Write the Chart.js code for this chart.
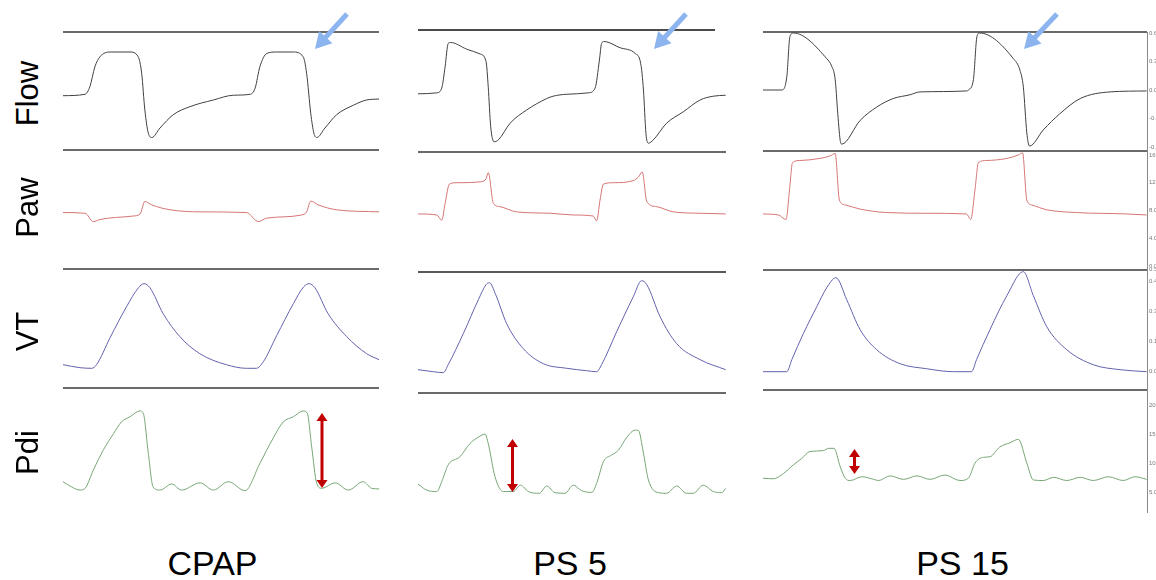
<!DOCTYPE html>
<html><head><meta charset="utf-8">
<script src="https://cdn.jsdelivr.net/npm/chart.js@4.4.1/dist/chart.umd.min.js"></script>
<style>
html,body{margin:0;padding:0;background:#fff;}
#wrap{position:relative;width:1156px;height:580px;overflow:hidden;font-family:"Liberation Sans",Arial,sans-serif;background:#fff;}
#wrap canvas{position:absolute;}
.rowlab{position:absolute;width:120px;height:31px;line-height:31px;font-size:31px;text-align:center;transform:rotate(-90deg);color:#000;white-space:nowrap;}
.collab{position:absolute;width:200px;height:34px;line-height:34px;font-size:34px;text-align:center;color:#000;white-space:nowrap;}
#ov{position:absolute;left:0;top:0;pointer-events:none;}
</style></head>
<body><div id="wrap"></div>
<script>
// ---------- DATA (time in % of record, values in signal units) ----------
const conditions = ['CPAP', 'PS 5', 'PS 15'];
const signals = ['Flow', 'Paw', 'VT', 'Pdi'];

const cpapFlow = [[0,-0.06],[7.0,-0.045],[8.5,0.035],[10.1,0.245],[11.7,0.35],[14.9,0.40],[21.2,0.40],[23.8,0.35],[24.9,0.175],[25.9,-0.21],[27.0,-0.455],[28.1,-0.50],[30.7,-0.40],[34.9,-0.26],[40.2,-0.175],[47.6,-0.105],[53.9,-0.055],[59.2,-0.045],[60.8,0.02],[62.3,0.245],[64.5,0.385],[67.6,0.40],[72.9,0.40],[76.0,0.35],[77.1,0.175],[78.4,-0.245],[79.4,-0.455],[80.3,-0.50],[82.9,-0.40],[86.6,-0.26],[91.9,-0.16],[96.1,-0.105],[100,-0.095]];
const cpapPaw = [[0,7.7],[7.0,7.6],[9.6,6.4],[11.7,6.7],[22.2,7.2],[24.4,7.5],[25.9,9.3],[28.1,8.8],[33.9,8.1],[43.4,7.8],[58.1,7.7],[61.8,6.4],[64.5,6.9],[75.5,7.35],[77.1,7.8],[78.4,9.35],[80.8,8.8],[86.6,8.1],[100,7.8]];
const cpapVT = [[0,0.035],[5.4,0.02],[9.1,0.017],[10.6,0.035],[14.9,0.17],[20.1,0.325],[23.9,0.42],[25.6,0.44],[27.5,0.42],[31.7,0.29],[37.0,0.175],[43.3,0.09],[51.7,0.035],[58.1,0.017],[61.2,0.017],[63.4,0.05],[67.6,0.18],[72.9,0.34],[76.2,0.425],[77.9,0.44],[79.7,0.42],[83.9,0.29],[89.8,0.175],[96.1,0.09],[100,0.06]];
const cpapPdi = [[0,6.9],[2.7,6.0],[5.4,5.45],[7.0,5.75],[9.6,8.9],[12.8,12.4],[16.0,15.2],[18.5,17.2],[21.2,18.1],[24.4,19.1],[25.4,18.7],[27.0,11.8],[28.5,6.0],[30.7,5.45],[34.4,6.5],[37.5,5.45],[43.4,6.7],[47.6,5.45],[52.3,6.9],[57.6,5.35],[62.3,10.05],[66.5,14.4],[69.7,17.2],[72.9,18.1],[76.0,19.1],[77.3,18.7],[78.7,12.9],[80.3,6.6],[81.9,5.75],[86.1,6.7],[90.3,5.45],[95.0,6.9],[97.7,5.75],[100,5.65]];

const ps5Flow = [[0,-0.04],[6.1,-0.03],[7.7,0.02],[8.8,0.245],[9.8,0.49],[10.6,0.50],[15.8,0.43],[20.1,0.38],[22.1,0.30],[22.8,0.035],[23.6,-0.385],[24.7,-0.545],[26.1,-0.525],[29.9,-0.35],[35.3,-0.21],[41.8,-0.09],[43.9,-0.065],[48.3,-0.045],[55.3,-0.03],[57.5,0.02],[58.9,0.315],[59.6,0.49],[60.4,0.51],[65.6,0.445],[70.5,0.385],[72.3,0.28],[73.2,0.0],[74.0,-0.455],[74.8,-0.56],[76.4,-0.525],[80.7,-0.35],[86.1,-0.23],[91.6,-0.105],[95.9,-0.065],[99.9,-0.055]];
const ps5Paw = [[0,7.5],[6.1,7.35],[7.7,6.6],[8.8,9.0],[10.2,11.8],[12.6,12.0],[20.7,12.15],[22.1,12.6],[22.8,13.45],[24.5,9.0],[26.6,8.55],[32.0,7.8],[42.9,7.6],[50.4,7.35],[56.9,7.2],[58.0,6.5],[59.1,9.5],[60.2,11.8],[63.4,12.0],[69.9,12.3],[71.5,12.8],[72.8,13.55],[74.3,9.25],[77.5,8.55],[82.9,7.8],[91.6,7.6],[99.9,7.5]];
const ps5VT = [[0,0.01],[5.0,0],[8.2,-0.005],[9.8,0.035],[14.7,0.19],[19.6,0.36],[22.1,0.435],[23.2,0.445],[25.1,0.39],[28.8,0.24],[34.2,0.115],[40.7,0.04],[48.3,0.017],[54.7,0.005],[58.0,0],[59.6,0.035],[64.5,0.2],[69.9,0.375],[72.6,0.455],[74.3,0.435],[78.6,0.275],[84.0,0.14],[91.6,0.06],[99.9,0.01]];
const ps5Pdi = [[0,6.5],[2.8,5.45],[6.1,5.2],[7.7,6.9],[9.8,9.8],[13.6,11.2],[16.9,13.5],[19.1,14.4],[21.8,15.1],[22.8,13.5],[25.0,7.75],[27.7,5.2],[30.9,5.2],[33.3,6.3],[35.8,5.2],[39.4,4.9],[41.8,6.15],[44.5,5.0],[47.7,4.9],[50.4,6.3],[53.1,5.35],[56.4,5.05],[58.0,6.6],[60.2,10.35],[62.9,11.5],[65.1,12.35],[67.8,14.55],[70.5,15.8],[71.6,15.7],[73.2,11.8],[74.8,7.2],[78.1,5.0],[80.7,4.9],[84.0,6.15],[87.2,4.9],[89.4,4.9],[92.6,6.3],[95.9,5.2],[98.6,5.0],[99.9,5.75]];

const ps15Flow = [[0,0],[4.9,0],[6.2,0.14],[7.0,0.56],[7.9,0.60],[16.6,0.33],[17.9,0.25],[18.8,0.11],[19.4,-0.21],[20.1,-0.53],[20.5,-0.57],[25.3,-0.32],[29.6,-0.18],[33.9,-0.09],[38.3,-0.05],[40.9,-0.02],[53.0,-0.01],[53.5,0],[54.8,0.11],[55.7,0.56],[56.4,0.60],[65.2,0.33],[66.9,0.21],[67.8,0.03],[68.7,-0.45],[69.4,-0.59],[73.0,-0.42],[77.3,-0.25],[82.6,-0.09],[90.4,-0.02],[99.9,-0.01]];
const ps15Paw = [[0,7.5],[4.0,7.35],[6.0,6.7],[6.9,10.95],[7.7,14.9],[9.6,15.2],[14.8,15.5],[17.4,15.85],[18.8,16.2],[19.9,9.5],[21.4,8.8],[25.3,8.2],[32.2,7.7],[42.6,7.6],[53.0,7.5],[54.1,6.7],[55.2,10.95],[56.1,14.9],[58.2,15.2],[63.5,15.5],[66.5,16.0],[67.6,16.3],[68.7,9.5],[70.0,8.8],[73.9,8.1],[81.7,7.7],[94.7,7.5],[99.9,7.35]];
const ps15VT = [[0,0],[6.2,0],[7.5,0.06],[10.5,0.19],[14.0,0.325],[16.6,0.42],[19.0,0.47],[21.8,0.36],[25.3,0.21],[29.6,0.11],[35.7,0.04],[42.6,0.015],[49.6,0],[54.3,0],[55.6,0.06],[59.1,0.21],[63.5,0.38],[67.8,0.50],[70.4,0.38],[73.9,0.225],[79.1,0.11],[86.0,0.035],[93.0,0.01],[99.9,0]];
const ps15Pdi = [[0,7.5],[2.7,7.4],[5.3,8.3],[7.9,9.8],[10.1,10.9],[12.2,12.1],[15.7,12.25],[17.1,12.65],[18.5,12.65],[20.1,9.5],[21.4,7.5],[22.7,7.1],[25.8,7.75],[28.8,7.3],[30.1,7.1],[33.1,7.9],[36.6,7.3],[40.1,7.9],[43.5,7.3],[47.4,8.05],[51.3,7.1],[53.5,7.5],[55.2,10.1],[57.4,11.1],[59.1,11.2],[61.7,12.9],[64.3,13.6],[66.5,14.2],[68.7,10.1],[70.4,7.2],[73.0,7.1],[75.7,7.65],[79.1,7.1],[82.6,7.65],[86.0,7.1],[90.0,7.75],[93.8,7.1],[96.9,7.75],[99.9,7.3]];

// right-hand axis ticks of the PS 15 column
const flowTicks = [0.6, 0.3, 0, -0.3, -0.6];
const flowTickLabels = ['0.6', '0.3', '0.0', '-0.3', '-0.6'];
const pawTicks = [16, 12, 8, 4, 0];
const pawTickLabels = ['16.0', '12.0', '8.0', '4.0', '0.0'];
const vtTicks = [0.51, 0.45, 0.30, 0.15, 0];
const vtTickLabels = ['0.51', '0.45', '0.30', '0.15', '0.00'];
const pdiTicks = [20, 15, 10, 5];
const pdiTickLabels = ['20.0', '15.0', '10.0', '5.0'];

// ---------- LAYOUT / STYLE ----------
const series = [
  [cpapFlow, cpapPaw, cpapVT, cpapPdi],
  [ps5Flow, ps5Paw, ps5VT, ps5Pdi],
  [ps15Flow, ps15Paw, ps15VT, ps15Pdi]
];
const axisTicks = [[flowTicks, flowTickLabels], [pawTicks, pawTickLabels], [vtTicks, vtTickLabels], [pdiTicks, pdiTickLabels]];
const colX = [[63, 379], [418, 726], [763, 1147]];
const rowLines = [[32, 150, 269, 388, 512], [30, 152, 272, 393, 512], [32, 151, 270, 390, 512]];
const rowZero = [90, 266, 371.7, 521.7];   // pixel row where value 0 sits
const rowScale = [95, 6.94, 200, 5.8];     // pixels per unit
const traceColors = ['#404040', '#d77474', '#6262ae', '#77a677'];
const ruleStyle = (ci, ri) => {
  if (ci === 1 && ri === 0) return { color: '#111', width: 1.5, length: 297 };
  if (ci === 1 && ri === 2) return { color: '#222', width: 1.5 };
  return { color: '#6a6a6a', width: 2 };
};

Chart.defaults.font.family = '"Liberation Sans", Arial, sans-serif';

const topRule = {
  id: 'topRule',
  beforeDatasetsDraw(chart, args, opts) {
    const { ctx, chartArea: a } = chart;
    ctx.save();
    ctx.strokeStyle = opts.color;
    ctx.lineWidth = opts.width;
    ctx.beginPath();
    ctx.moveTo(a.left, a.top);
    ctx.lineTo(opts.length != null ? a.left + opts.length : a.right, a.top);
    ctx.stroke();
    ctx.restore();
  }
};

const wrap = document.getElementById('wrap');

series.forEach((col, ci) => {
  col.forEach((data, ri) => {
    const top = rowLines[ci][ri], bottom = rowLines[ci][ri + 1];
    const x0 = colX[ci][0], x1 = colX[ci][1];
    const hasAxis = ci === 2;
    const W = hasAxis ? 1156 - x0 : x1 - x0;
    const H = bottom - top + 4;
    const cv = document.createElement('canvas');
    cv.width = W; cv.height = H;
    cv.style.left = x0 + 'px'; cv.style.top = (top - 2) + 'px';
    cv.style.width = W + 'px'; cv.style.height = H + 'px';
    wrap.appendChild(cv);
    const k = rowScale[ri], z = rowZero[ri];
    const ymax = (z - top) / k, ymin = (z - bottom) / k;
    const [tv, tl] = axisTicks[ri];
    const yScale = hasAxis ? {
      position: 'right', min: ymin, max: ymax, display: true,
      grid: { display: false, drawTicks: false },
      border: { display: true, color: '#8a8a8a', width: 1 },
      ticks: { color: '#777', font: { size: 6 }, padding: 2, autoSkip: false,
               callback: (v, i) => tl[i] },
      afterBuildTicks: (s) => { s.ticks = tv.map(v => ({ value: v })); },
      afterFit: (s) => { s.width = 9; s.paddingTop = 0; s.paddingBottom = 0; }
    } : { display: false, min: ymin, max: ymax };
    new Chart(cv, {
      type: 'line',
      data: { datasets: [{
        data: data.map(([t, v]) => ({ x: t, y: v })),
        borderColor: traceColors[ri], borderWidth: 1,
        pointRadius: 0, cubicInterpolationMode: 'monotone', fill: false
      }] },
      options: {
        responsive: false, animation: false, devicePixelRatio: 1,
        layout: { padding: { top: 2, bottom: 2, left: 0, right: 0 } },
        scales: { x: { type: 'linear', min: 0, max: 100, display: false }, y: yScale },
        plugins: { legend: { display: false }, tooltip: { enabled: false }, topRule: ruleStyle(ci, ri) },
        events: []
      },
      plugins: [topRule]
    });
  });
});

// row labels (rotated) and column labels
const rowCY = [93, 207, 331, 452];
signals.forEach((s, i) => {
  const d = document.createElement('div');
  d.className = 'rowlab'; d.textContent = s;
  d.style.left = (26.5 - 60) + 'px'; d.style.top = (rowCY[i] - 15.5) + 'px';
  wrap.appendChild(d);
});
const colCX = [212.5, 570, 962.5];
conditions.forEach((c, i) => {
  const d = document.createElement('div');
  d.className = 'collab'; d.textContent = c;
  d.style.left = (colCX[i] - 100) + 'px'; d.style.top = (563 - 17) + 'px';
  wrap.appendChild(d);
});

// annotation arrows
const NS = 'http://www.w3.org/2000/svg';
const svg = document.createElementNS(NS, 'svg');
svg.setAttribute('id', 'ov'); svg.setAttribute('width', 1156); svg.setAttribute('height', 580);
wrap.appendChild(svg);
function arrowHead(tx, ty, dx, dy, len, hw, color) {
  const bx = tx - dx * len, by = ty - dy * len;
  const p = document.createElementNS(NS, 'polygon');
  p.setAttribute('points', `${tx},${ty} ${bx - dy * hw},${by + dx * hw} ${bx + dy * hw},${by - dx * hw}`);
  p.setAttribute('fill', color);
  svg.appendChild(p);
}
function line(x1, y1, x2, y2, w, color) {
  const l = document.createElementNS(NS, 'line');
  l.setAttribute('x1', x1); l.setAttribute('y1', y1); l.setAttribute('x2', x2); l.setAttribute('y2', y2);
  l.setAttribute('stroke', color); l.setAttribute('stroke-width', w);
  svg.appendChild(l);
}
const blueArrows = [[347, 14, 315, 49], [686, 14, 654, 49], [1057, 14, 1024, 49]];
blueArrows.forEach(([x1, y1, x2, y2]) => {
  const L = Math.hypot(x2 - x1, y2 - y1), dx = (x2 - x1) / L, dy = (y2 - y1) / L;
  line(x1, y1, x2 - dx * 12, y2 - dy * 12, 5, '#8cb4ef');
  arrowHead(x2, y2, dx, dy, 16, 9, '#8cb4ef');
});
const redArrows = [[322, 413, 488], [512.5, 439, 492], [854.5, 449, 474]];
redArrows.forEach(([x, y1, y2]) => {
  line(x, y1 + 6, x, y2 - 6, 3, '#c00000');
  arrowHead(x, y1, 0, -1, 8, 5.5, '#c00000');
  arrowHead(x, y2, 0, 1, 8, 5.5, '#c00000');
});
</script>
</body></html>
